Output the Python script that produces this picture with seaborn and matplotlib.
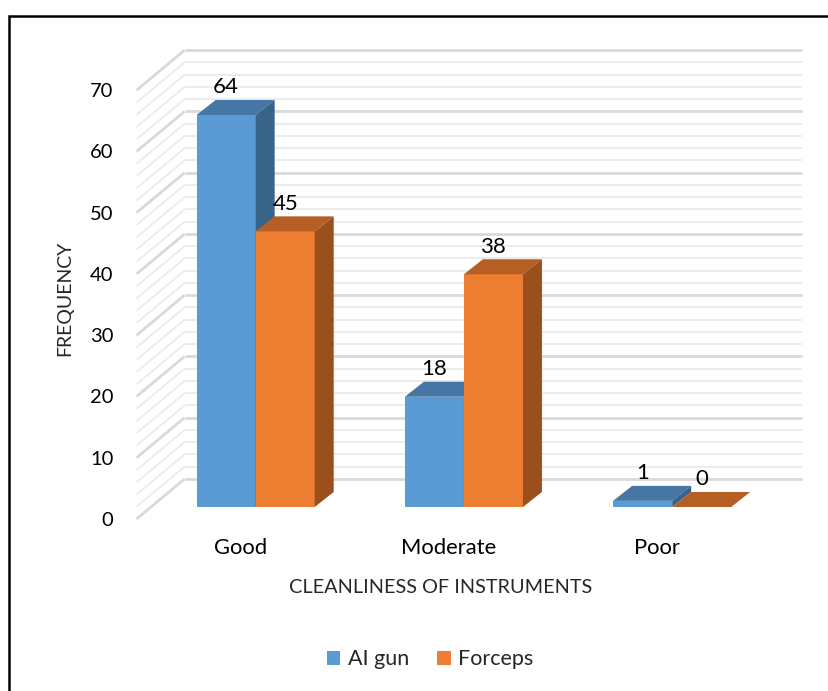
import matplotlib
matplotlib.use("Agg")
import matplotlib.pyplot as plt
import numpy as np
import pandas as pd
import seaborn as sns
from matplotlib.patches import Polygon, Rectangle
from matplotlib.transforms import ScaledTranslation

categories = ["Good", "Moderate", "Poor"]
series = ["AI gun", "Forceps"]
ai_gun = [64, 18, 1]
forceps = [45, 38, 0]
y_ticks = list(range(0, 71, 10))
minor_ticks = list(range(0, 71, 2))

FRONT = {"AI gun": "#5B9BD5", "Forceps": "#ED7D31"}
TOP = {"AI gun": "#4676A4", "Forceps": "#B65F24"}
SIDE = {"AI gun": "#38648A", "Forceps": "#9B4F1D"}

sns.set_style("white")
plt.rcParams["font.family"] = ["Lato", "DejaVu Sans"]

df = pd.DataFrame({
    "category": categories * 2,
    "series": [series[0]] * 3 + [series[1]] * 3,
    "frequency": ai_gun + forceps,
})

DPI = 100
fig = plt.figure(figsize=(8.29, 6.91), dpi=DPI)
ax = fig.add_axes([0.1828, 0.2663, 0.7451, 0.6205])

sns.barplot(data=df, x="category", y="frequency", hue="series",
            palette=FRONT, width=0.567, saturation=1, ax=ax,
            legend=False, linewidth=0)
ax.set_xlim(-0.5, 2.466)
ax.set_ylim(0, 70)
for s in ax.spines.values():
    s.set_visible(False)

# pixel -> data conversion for the fake 3D depth
p0 = ax.transData.transform((0, 0))
p1 = ax.transData.transform((1, 1))
ux, uy = p1 - p0
back_dx, back_dy = 33 / ux, 28 / uy
front_dx, front_dy = -15 / ux, -12 / uy
bar_dx, bar_dy = 19 / ux, 15 / uy

# back wall + left wall gridlines
x_lo, x_hi = ax.get_xlim()
for v in minor_ticks:
    major = v % 10 == 0
    kw = dict(color="#d9d9d9" if major else "#ebebeb",
              lw=2.0 if major else 1.3, zorder=1, clip_on=False,
              solid_capstyle="butt")
    ax.plot([x_lo + back_dx, x_hi + back_dx], [v + back_dy] * 2, **kw)
    ax.plot([x_lo + front_dx, x_lo + back_dx],
            [v + front_dy, v + back_dy], **kw)

# add top and side faces to every bar, drawn left to right
bars = []
for name, cont in zip(series, ax.containers):
    for rect in cont:
        bars.append((rect.get_x(), name, rect))
bars.sort(key=lambda b: b[0])
for k, (x0, name, rect) in enumerate(bars):
    w, h = rect.get_width(), rect.get_height()
    z = 3 + k * 0.1
    rect.set_zorder(z)
    top = Polygon([(x0, h), (x0 + w, h), (x0 + w + bar_dx, h + bar_dy),
                   (x0 + bar_dx, h + bar_dy)], closed=True,
                  fc=TOP[name], ec="none", zorder=z + 0.05, clip_on=False)
    side = Polygon([(x0 + w, 0), (x0 + w + bar_dx, bar_dy),
                    (x0 + w + bar_dx, h + bar_dy), (x0 + w, h)], closed=True,
                   fc=SIDE[name], ec="none", zorder=z + 0.05, clip_on=False)
    ax.add_patch(top)
    ax.add_patch(side)
    ax.annotate(f"{int(h)}", (x0 + w / 2, h), xytext=(0, 27.5 * 0.72),
                textcoords="offset points", ha="center", va="center",
                fontsize=16, color="black", zorder=10)

# tick labels sit on the front edge of the floor / left wall
ax.set_yticks(y_ticks)
ax.tick_params(axis="both", length=0, colors="black")
ax.tick_params(axis="y", pad=27.5, labelsize=14.5)
ax.tick_params(axis="x", pad=22, labelsize=15.8)
for lbl in ax.get_yticklabels():
    lbl.set_transform(lbl.get_transform()
                      + ScaledTranslation(0, -12 / DPI, fig.dpi_scale_trans))
for lbl in ax.get_xticklabels():
    lbl.set_transform(lbl.get_transform()
                      + ScaledTranslation(-15 / DPI, 0, fig.dpi_scale_trans))

ax.set_xlabel("CLEANLINESS OF INSTRUMENTS", fontsize=14.3, va="center")
ax.xaxis.set_label_coords(0.4687, -0.188)
ax.set_ylabel("FREQUENCY", fontsize=14, va="center")
ax.yaxis.set_label_coords(-0.14, 0.4875)

handles = [Rectangle((0, 0), 1, 1, fc=FRONT[s], ec="none") for s in series]
fig.legend(handles, series, loc="center", bbox_to_anchor=(0.519, 0.046),
           ncol=2, frameon=False, fontsize=15.5, handlelength=0.62,
           handleheight=0.62, handletextpad=0.35, columnspacing=1.3)

# chart border
fig.add_artist(Rectangle((9.5 / 829, -0.1), 1.2, 1.1 - 16 / 691,
                         transform=fig.transFigure, fill=False,
                         ec="black", lw=1.8))

fig.savefig("out.png", dpi=DPI)
